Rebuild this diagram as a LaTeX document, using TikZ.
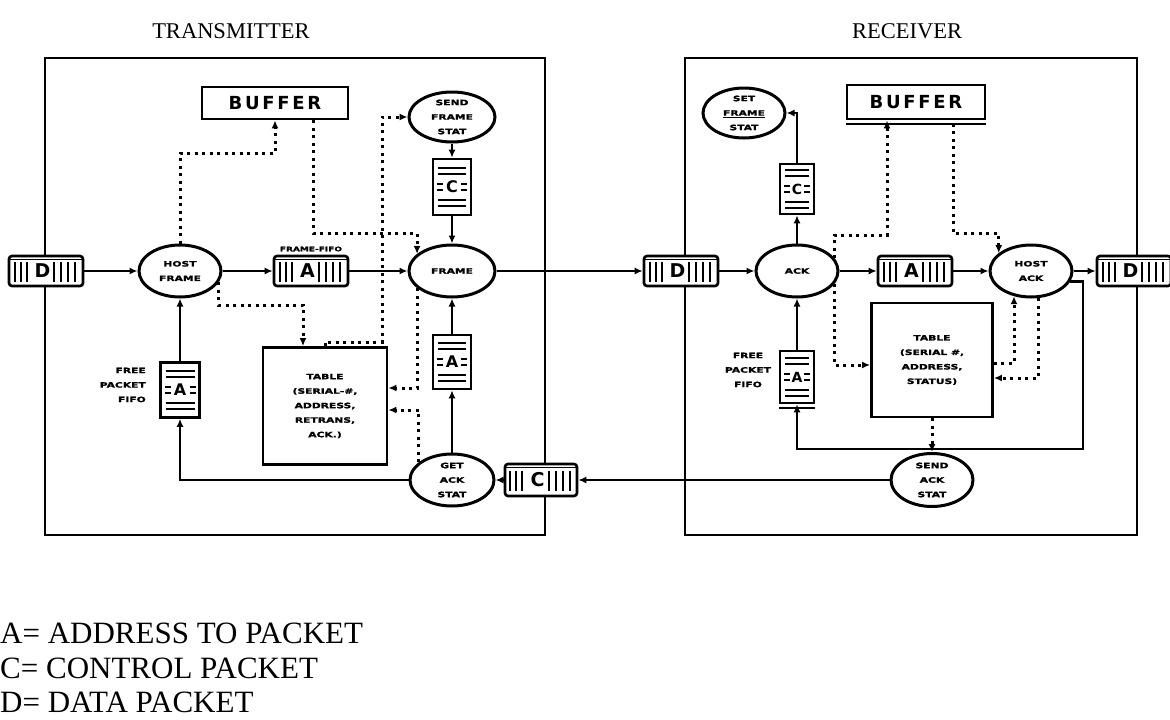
\documentclass[tikz,border=0pt]{standalone}
\usepackage{fontspec}
\setmainfont{Liberation Serif}
\newfontfamily\lblfont{DejaVu Sans}[FakeStretch=1.45, FakeBold=1.4]
\newfontfamily\buffont{DejaVu Sans}[LetterSpace=15]
\newfontfamily\symfont{DejaVu Sans}
\usetikzlibrary{shapes.geometric, arrows.meta}

\tikzset{
  lbl/.style={font=\lblfont\bfseries\fontsize{7.4}{14.5}\selectfont, align=center, inner sep=0pt},
  proc/.style={ellipse, draw, fill=white, line width=3pt, minimum width=82pt, minimum height=52pt, lbl},
  tablebox/.style={rectangle, draw, line width=2.8pt, lbl},
  bufbox/.style={rectangle, draw, line width=2.8pt, minimum width=146pt, minimum height=32pt, inner sep=0pt,
    font=\buffont\bfseries\fontsize{18}{18}\selectfont},
  frame/.style={rectangle, draw, line width=2.4pt},
  queue/.style={draw, fill=white, line width=2.6pt, rounded corners=3pt, minimum width=74pt, minimum height=30pt,
    inner sep=0pt, font=\symfont\bfseries\fontsize{19}{19}\selectfont,
    path picture={
      \foreach \dx in {-31,-25,-19,8,15,22,29}
        \draw[line width=2.2pt] ([xshift=\dx pt,yshift=-11pt]path picture bounding box.center)
          -- ([xshift=\dx pt,yshift=9pt]path picture bounding box.center);
      \draw[line width=1.8pt] ([yshift=-3.5pt]path picture bounding box.north west)
        -- ([yshift=-3.5pt]path picture bounding box.north east);
    }},
  doc/.style={draw, fill=white, line width=2.6pt, minimum width=38pt, minimum height=56pt, inner sep=0pt,
    font=\symfont\bfseries\fontsize{16}{16}\selectfont,
    path picture={
      \foreach \dy in {-19,-13,13,19}
        \draw[line width=1.9pt] ([xshift=5pt,yshift=\dy pt]path picture bounding box.west)
          -- ([xshift=-5pt,yshift=\dy pt]path picture bounding box.east);
      \foreach \dy in {-3,3} {
        \draw[line width=1.7pt] ([xshift=4pt,yshift=\dy pt]path picture bounding box.west) -- ++(6pt,0pt);
        \draw[line width=1.7pt] ([xshift=-4pt,yshift=\dy pt]path picture bounding box.east) -- ++(-6pt,0pt);
      }
    }},
  wire/.style={line width=2.8pt, -{Latex[length=8pt,width=7pt]}},
  ctrl/.style={line width=3pt, dash pattern=on 3pt off 4.5pt, -{Latex[length=8pt,width=7pt]}},
  title/.style={font=\fontsize{22.5}{24}\selectfont},
  legend/.style={font=\fontsize{31}{33}\selectfont, anchor=west, inner sep=0pt},
}

\begin{document}
\begin{tikzpicture}[x=1pt, y=-1pt]
\useasboundingbox (0,0) rectangle (1170,720);

% titles and the two station frames
\node[title] (ttx) at (231,31) {TRANSMITTER};
\node[title] (trx) at (907,31) {RECEIVER};
\node[frame, minimum width=500pt, minimum height=477pt] (txbox) at (295,296.5) {};
\node[frame, minimum width=452pt, minimum height=477pt] (rxbox) at (911,296.5) {};

% ---------------- transmitter ----------------
\node[queue] (Dq1) at (46,271) {\kern-7pt D};
\node[proc] (hostframe) at (180,271) {HOST\\FRAME};
\node[queue] (fifo) at (311,271) {\kern-7pt A};
\node[lbl, font=\lblfont\bfseries\fontsize{6.2}{7}\selectfont] (fifolbl) at (311,249) {FRAME-FIFO};
\node[proc, minimum width=86pt] (frame) at (452,271) {FRAME};
\node[bufbox] (buftx) at (275,103) {BUFFER};
\node[proc, minimum width=86pt, minimum height=50pt] (sendfs) at (452,117) {SEND\\FRAME\\STAT};
\node[doc] (Cdoctx) at (452,187) {C};
\node[doc, minimum height=54pt] (Adoctx) at (452,362) {A};
\node[proc, minimum width=84pt] (getack) at (452,480) {GET\\ACK\\STAT};
\node[queue, minimum width=72pt, minimum height=32pt] (Cq) at (541,480) {\kern-7pt C};
\node[tablebox, minimum width=124pt, minimum height=117pt] (tabletx) at (325,406)
  {TABLE\\(SERIAL-\#,\\ADDRESS,\\RETRANS,\\ACK.)};
\node[doc, minimum width=39pt, minimum height=55pt] (Adocfree) at (180,390) {A};
\node[lbl, align=right, anchor=east] (freetx) at (146,385) {FREE\\PACKET\\FIFO};

% ---------------- receiver ----------------
\node[queue] (Dq2) at (681,271) {\kern-7pt D};
\node[proc] (ack) at (797,271) {ACK};
\node[queue] (Aq) at (915,271) {\kern-7pt A};
\node[proc] (hostack) at (1031,271) {HOST\\ACK};
\node[queue] (Dq3) at (1134,271) {\kern-7pt D};
\node[doc, minimum width=34pt, minimum height=50pt, font=\symfont\bfseries\fontsize{14}{14}\selectfont] (Cdocrx) at (797,189) {C};
\node[proc, minimum height=50pt] (setfs) at (744,113) {SET\\\underline{FRAME}\\STAT};
\node[bufbox, minimum width=138pt, minimum height=34pt] (bufrx) at (916,102) {BUFFER};
\draw[line width=2.2pt] ([yshift=-3.5pt]bufrx.south west) -- ([yshift=-3.5pt]bufrx.south east);
\node[tablebox, minimum width=121pt, minimum height=114pt] (tablerx) at (932,360)
  {TABLE\\(SERIAL \#,\\ADDRESS,\\STATUS)};
\node[doc, minimum width=34pt, minimum height=52pt, font=\symfont\bfseries\fontsize{14}{14}\selectfont] (Adocrx) at (797,377) {A};
\draw[line width=2pt] ([yshift=-3.5pt]Adocrx.south west) -- ([yshift=-3.5pt]Adocrx.south east);
\node[lbl] (freerx) at (748,370) {FREE\\PACKET\\FIFO};
\node[proc, minimum height=53pt] (sendack) at (932,480) {SEND\\ACK\\STAT};

% ---------------- data path ----------------
\draw[wire] (Dq1) -- (hostframe);
\draw[wire] (hostframe) -- (fifo);
\draw[wire] (fifo) -- (frame);
\draw[wire] (frame) -- (Dq2);
\draw[wire] (Dq2) -- (ack);
\draw[wire] (ack) -- (Aq);
\draw[wire] (Aq) -- (hostack);
\draw[wire] (hostack) -- (Dq3);

% ---------------- transmitter control ----------------
\draw[wire] (sendfs.south) -- (Cdoctx.north);
\draw[wire] (Cdoctx.south) -- (frame.north);
\draw[wire] (getack.north) -- (Adoctx.south);
\draw[wire] (Adoctx.north) -- (frame.south);
\draw[wire] (Cq) -- (getack);
\draw[wire] (sendack) -- (Cq);
\draw[wire] (getack.west) -| (Adocfree.south);
\draw[wire] (Adocfree.north) -- (hostframe.south);

\coordinate (c6) at (180,153);
\draw[ctrl] (hostframe.north) -- (c6) -| (buftx.south);
\coordinate (c7) at (313,233);
\draw[ctrl] (c7 |- buftx.south) -- (c7) -| (frame.154);
\coordinate (c9) at (382,342);
\draw[ctrl] (tabletx.north) |- (c9) |- (sendfs.west);
\coordinate (c11) at (303,305);
\draw[ctrl] (hostframe.-16) |- (c11) -- (c11 |- tabletx.north);
\coordinate (c12) at (frame.206 |- 0,388);
\draw[ctrl] (frame.206) -- (c12) -- (c12 -| tabletx.east);
\coordinate (c13) at (getack.152 |- 0,410);
\draw[ctrl] (getack.152) -- (c13) -- (c13 -| tabletx.east);

% ---------------- receiver control ----------------
\draw[wire] (ack.north) -- (Cdocrx.south);
\draw[wire] (Cdocrx.north) |- (setfs.east);
\draw[wire] (Adocrx.north) -- (ack.south);
\coordinate (c15) at (1083,449);
\draw[wire] (hostack.-15) -| (c15) -| (Adocrx.south);
\draw[ctrl] (tablerx.south) -- (sendack.north);

\coordinate (c1) at (887,235);
\draw[ctrl] (ack.19) |- (c1) -- (c1 |- bufrx.south);
\coordinate (c2) at (953,233);
\draw[ctrl] ([yshift=-3.5pt]c2 |- bufrx.south) -- (c2) -| (hostack.151);
\coordinate (c3) at (ack.-19 |- 0,365);
\draw[ctrl] (ack.-19) -- (c3) -- (c3 -| tablerx.west);
\coordinate (c4) at (hostack.236 |- 0,363);
\draw[ctrl] (c4 -| tablerx.east) -- (c4) -- (hostack.236);
\coordinate (c5) at (hostack.-75 |- 0,378);
\draw[ctrl] (hostack.-75) -- (c5) -- (c5 -| tablerx.east);

% ---------------- legend ----------------
\node[legend] (legA) at (0,633) {A= ADDRESS TO PACKET};
\node[legend] (legC) at (0,668) {C= CONTROL PACKET};
\node[legend] (legD) at (0,702) {D= DATA PACKET};
\end{tikzpicture}
\end{document}
